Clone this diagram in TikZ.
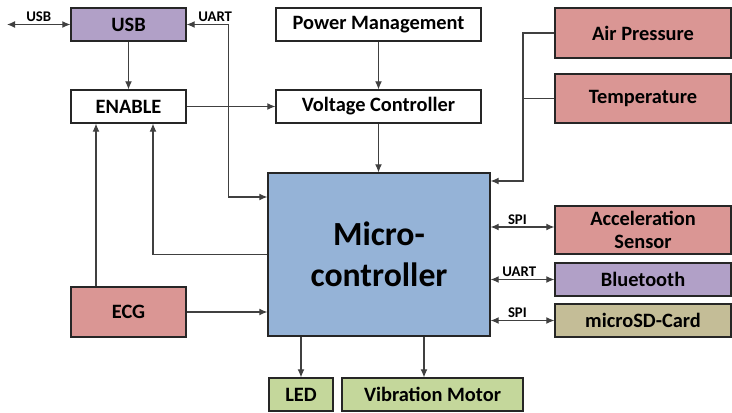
\documentclass[tikz,border=0pt]{standalone}
\usepackage{fontspec}
\setmainfont{Carlito}
\usetikzlibrary{arrows.meta, positioning}

\definecolor{usbpurple}{HTML}{B1A0C7}
\definecolor{mcublue}{HTML}{95B3D7}
\definecolor{sensorred}{HTML}{DA9694}
\definecolor{outgreen}{HTML}{C4D79B}
\definecolor{cardtan}{HTML}{C4BD97}

\begin{document}
\begin{tikzpicture}[x=0.025cm, y=-0.025cm, align=center,
  font=\bfseries\fontsize{14.5}{16.5}\selectfont,
  box/.style={draw=black!85, line width=0.8pt, inner sep=0pt},
  wire/.style={draw=black!75, line width=0.8pt},
  lbl/.style={font=\bfseries\fontsize{10.5}{11}\selectfont, above, inner sep=1.5pt},
  >={Latex[length=2mm,width=1.7mm]}]
  \useasboundingbox (0,0) rectangle (732,413);

  % Left column
  \node (usb) [box, fill=usbpurple, minimum width=2.875cm, minimum height=0.825cm] at (128.5,24.5) {USB};
  \node (enable) [box, fill=white, minimum width=2.875cm, minimum height=0.825cm] at (128.5,106.5) {ENABLE};
  \node (ecg) [box, fill=sensorred, minimum width=2.875cm, minimum height=1.25cm] at (128.5,312) {ECG};

  % Power path
  \node (pm) [box, fill=white, minimum width=5.125cm, minimum height=0.825cm] at (378.5,24.5) {Power Management};
  \node (vc) [box, fill=white, minimum width=5.125cm, minimum height=0.825cm] at (378.5,106.5) {Voltage Controller};

  % Microcontroller
  \node (micro) [box, fill=mcublue, minimum width=5.55cm, minimum height=4.075cm,
    font=\bfseries\fontsize{24}{29}\selectfont] at (379,254.5) {Micro-\\controller};

  % Sensors and peripherals
  \node (air) [box, fill=sensorred, minimum width=4.4cm, minimum height=1.25cm] at (643,33) {Air Pressure};
  \node (temp) [box, fill=sensorred, minimum width=4.4cm, minimum height=1.225cm] at (643,98.5) {Temperature};
  \node (accel) [box, fill=sensorred, minimum width=4.4cm, minimum height=1.2cm] at (643,230) {Acceleration\\Sensor};
  \node (bt) [box, fill=usbpurple, minimum width=4.4cm, minimum height=0.825cm] at (643,279.5) {Bluetooth};
  \node (sd) [box, fill=cardtan, minimum width=4.4cm, minimum height=0.825cm] at (643,320.5) {microSD-Card};

  % Outputs
  \node (led) [box, fill=outgreen, minimum width=1.6cm, minimum height=0.825cm] at (301,394.5) {LED};
  \node (vib) [box, fill=outgreen, minimum width=4.525cm, minimum height=0.825cm] at (432.5,394.5) {Vibration Motor};

  \coordinate (usbext) at (7,24.5);

  % Connections
  \draw[wire, <->] (usbext) -- (usb.west) node[lbl, midway] {USB};
  \draw[wire, <->] (usb.east) -- ++(42,0) node[lbl, pos=0.68] {UART} |- (micro.west |- 0,197);
  \draw[wire, ->] (usb) -- (enable);
  \draw[wire, ->] (enable) -- (vc);
  \draw[wire, ->] (pm) -- (vc);
  \draw[wire, ->] (vc) -- (vc |- micro.north);
  \draw[wire, ->] (ecg.north -| 96,0) -- (enable.south -| 96,0);
  \draw[wire, ->] (micro.west) -| (enable.south -| 153,0);
  \draw[wire, ->] (ecg) -- (ecg -| micro.west);
  \draw[wire, ->] (air.west) -| (523,181) -- (micro.east |- 0,181);
  \draw[wire] (temp.west) -- (temp.west -| 523,0);
  \draw[wire, <->] (micro.east |- 0,227) -- (accel.west |- 0,227) node[lbl, pos=0.42] {SPI};
  \draw[wire, <->] (micro.east |- bt) -- (bt.west) node[lbl, pos=0.45] {UART};
  \draw[wire, <->] (micro.east |- sd) -- (sd.west) node[lbl, pos=0.42] {SPI};
  \draw[wire, ->] (micro.south -| led) -- (led.north);
  \draw[wire, ->] (micro.south -| 424,0) -- (vib.north -| 424,0);
\end{tikzpicture}
\end{document}
